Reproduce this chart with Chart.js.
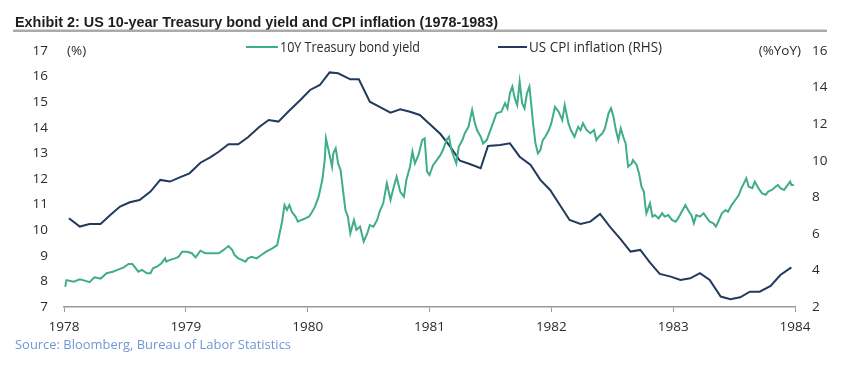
<!DOCTYPE html>
<html>
<head>
<meta charset="utf-8">
<script src="https://cdn.jsdelivr.net/npm/chart.js@4/dist/chart.umd.min.js"></script>
<style>
  html, body { margin: 0; padding: 0; background: #fff; }
  #chart { display: block; }
</style>
</head>
<body>
<canvas id="chart" width="848" height="376"></canvas>
<script>
// ====== DATA ======
const titleText = "Exhibit 2: US 10-year Treasury bond yield and CPI inflation (1978-1983)";
const sourceText = "Source: Bloomberg, Bureau of Labor Statistics";
const seriesNames = ["10Y Treasury bond yield", "US CPI inflation (RHS)"];
const yearTicks = [1978, 1979, 1980, 1981, 1982, 1983, 1984];

// 10Y yield (%), x in decimal years
const yieldDates = [
  1978.01, 1978.02, 1978.08, 1978.13, 1978.17, 1978.21, 1978.25, 1978.30, 1978.35, 1978.40,
  1978.45, 1978.49, 1978.53, 1978.56, 1978.58, 1978.61, 1978.64, 1978.68, 1978.71, 1978.73,
  1978.77, 1978.80, 1978.83, 1978.84, 1978.87, 1978.91, 1978.94, 1978.97, 1979.01, 1979.05,
  1979.08, 1979.12, 1979.16, 1979.21, 1979.27, 1979.31, 1979.35, 1979.38, 1979.40, 1979.43,
  1979.46, 1979.49, 1979.51, 1979.54, 1979.58, 1979.62, 1979.66, 1979.71, 1979.75, 1979.77,
  1979.79, 1979.81, 1979.83, 1979.85, 1979.87, 1979.90, 1979.92, 1979.95, 1979.98, 1980.01,
  1980.03, 1980.06, 1980.09, 1980.12, 1980.14, 1980.15, 1980.18, 1980.20, 1980.21, 1980.23,
  1980.25, 1980.27, 1980.29, 1980.31, 1980.33, 1980.35, 1980.38, 1980.40, 1980.43, 1980.46,
  1980.49, 1980.51, 1980.54, 1980.57, 1980.59, 1980.62, 1980.65, 1980.68, 1980.70, 1980.73,
  1980.76, 1980.79, 1980.81, 1980.84, 1980.86, 1980.88, 1980.91, 1980.94, 1980.96, 1980.98,
  1981.00, 1981.03, 1981.06, 1981.09, 1981.11, 1981.14, 1981.16, 1981.18, 1981.20, 1981.22,
  1981.24, 1981.27, 1981.29, 1981.32, 1981.35, 1981.37, 1981.39, 1981.42, 1981.44, 1981.47,
  1981.50, 1981.53, 1981.55, 1981.59, 1981.62, 1981.64, 1981.66, 1981.68, 1981.70, 1981.72,
  1981.74, 1981.76, 1981.78, 1981.80, 1981.82, 1981.83, 1981.85, 1981.87, 1981.89, 1981.91,
  1981.93, 1981.95, 1981.98, 1982.00, 1982.03, 1982.06, 1982.09, 1982.11, 1982.14, 1982.16,
  1982.19, 1982.22, 1982.24, 1982.26, 1982.29, 1982.32, 1982.35, 1982.37, 1982.39, 1982.42,
  1982.44, 1982.47, 1982.49, 1982.51, 1982.53, 1982.55, 1982.57, 1982.59, 1982.61, 1982.63,
  1982.66, 1982.67, 1982.70, 1982.72, 1982.74, 1982.76, 1982.77, 1982.78, 1982.81, 1982.83,
  1982.85, 1982.88, 1982.91, 1982.93, 1982.96, 1982.99, 1983.02, 1983.04, 1983.07, 1983.10,
  1983.13, 1983.15, 1983.17, 1983.19, 1983.22, 1983.25, 1983.28, 1983.30, 1983.33, 1983.35,
  1983.37, 1983.40, 1983.43, 1983.45, 1983.48, 1983.51, 1983.54, 1983.56, 1983.58, 1983.60,
  1983.62, 1983.65, 1983.67, 1983.70, 1983.73, 1983.76, 1983.78, 1983.81, 1983.84, 1983.86,
  1983.88, 1983.91, 1983.93, 1983.96, 1983.97, 1983.99
];
const yieldValues = [
  7.79, 8.05, 7.99, 8.08, 8.03, 7.97, 8.16, 8.11, 8.32, 8.38,
  8.47, 8.55, 8.68, 8.68, 8.57, 8.38, 8.45, 8.32, 8.32, 8.51,
  8.60, 8.71, 8.90, 8.77, 8.84, 8.90, 8.96, 9.16, 9.16, 9.10,
  8.94, 9.20, 9.10, 9.10, 9.10, 9.23, 9.38, 9.23, 9.03, 8.90,
  8.84, 8.77, 8.90, 8.96, 8.90, 9.03, 9.16, 9.29, 9.42, 9.88,
  10.33, 10.98, 10.79, 10.98, 10.72, 10.53, 10.33, 10.40, 10.46, 10.53,
  10.66, 10.92, 11.31, 11.96, 12.74, 13.59, 12.94, 12.48, 13.00, 13.20,
  12.61, 12.35, 11.57, 10.79, 10.53, 9.88, 10.40, 10.01, 10.14, 9.55,
  9.88, 10.20, 10.14, 10.40, 10.72, 11.05, 11.83, 11.18, 11.57, 12.09,
  11.50, 11.31, 11.96, 12.48, 13.07, 12.61, 12.94, 13.52, 13.59, 12.29,
  12.16, 12.55, 12.74, 12.94, 13.13, 13.52, 13.65, 13.13, 12.87, 12.61,
  13.26, 13.52, 13.79, 14.04, 14.70, 14.24, 13.91, 13.65, 13.39, 13.52,
  13.91, 14.30, 14.57, 14.63, 14.96, 14.76, 15.35, 15.61, 15.15, 14.89,
  15.80, 14.96, 14.76, 15.35, 15.61, 15.15, 14.18, 13.39, 13.00, 13.13,
  13.52, 13.65, 13.91, 14.18, 14.82, 14.63, 14.30, 14.89, 14.18, 13.91,
  13.65, 14.04, 13.91, 14.18, 13.91, 13.79, 13.91, 13.52, 13.65, 13.79,
  13.98, 14.57, 14.76, 14.43, 13.91, 13.52, 13.98, 13.65, 13.39, 12.48,
  12.61, 12.74, 12.55, 12.22, 11.70, 11.50, 11.00, 10.66, 11.05, 10.53,
  10.59, 10.46, 10.66, 10.53, 10.59, 10.40, 10.33, 10.46, 10.72, 10.98,
  10.72, 10.59, 10.27, 10.59, 10.53, 10.66, 10.46, 10.33, 10.27, 10.14,
  10.33, 10.66, 10.79, 10.72, 10.98, 11.18, 11.38, 11.64, 11.83, 12.03,
  11.70, 11.64, 11.90, 11.64, 11.44, 11.38, 11.51, 11.57, 11.70, 11.77,
  11.64, 11.57, 11.70, 11.90, 11.77, 11.77
];

// CPI inflation (%YoY, right axis)
const cpiDates = [
  1978.04, 1978.13, 1978.21, 1978.30, 1978.38, 1978.46, 1978.54, 1978.62, 1978.71, 1978.79,
  1978.87, 1978.95, 1979.03, 1979.12, 1979.20, 1979.27, 1979.35, 1979.43, 1979.51, 1979.60,
  1979.68, 1979.76, 1979.84, 1979.94, 1980.02, 1980.10, 1980.18, 1980.25, 1980.35, 1980.42,
  1980.51, 1980.59, 1980.68, 1980.76, 1980.84, 1980.92, 1981.01, 1981.09, 1981.17, 1981.25,
  1981.33, 1981.42, 1981.48, 1981.58, 1981.66, 1981.74, 1981.83, 1981.91, 1981.99, 1982.07,
  1982.15, 1982.24, 1982.32, 1982.40, 1982.48, 1982.57, 1982.65, 1982.73, 1982.81, 1982.89,
  1982.98, 1983.06, 1983.14, 1983.22, 1983.30, 1983.39, 1983.47, 1983.55, 1983.63, 1983.71,
  1983.80, 1983.88, 1983.97
];
const cpiValues = [
  6.85, 6.40, 6.54, 6.54, 7.03, 7.49, 7.73, 7.85, 8.31, 8.95,
  8.86, 9.09, 9.31, 9.89, 10.18, 10.49, 10.90, 10.90, 11.28, 11.83,
  12.23, 12.14, 12.68, 13.32, 13.87, 14.14, 14.83, 14.78, 14.45, 14.45,
  13.23, 12.95, 12.63, 12.81, 12.68, 12.50, 11.95, 11.46, 10.77, 10.00,
  9.82, 9.59, 10.81, 10.86, 10.95, 10.22, 9.77, 8.95, 8.40, 7.58,
  6.76, 6.54, 6.67, 7.09, 6.40, 5.70, 5.03, 5.12, 4.43, 3.81,
  3.66, 3.48, 3.57, 3.85, 3.48, 2.57, 2.42, 2.53, 2.84, 2.84,
  3.15, 3.75, 4.17
];

// ====== STYLE ======
const GREEN = "#40ad8a";
const NAVY = "#213a5d";
const TEXT = "#2b2b2b";
const AXIS = "#9a9a9a";
const TICK_FONT = { family: "'Open Sans', sans-serif", size: 13.5 };

const yieldPoints = yieldDates.map((d, i) => ({ x: d, y: yieldValues[i] }));
const cpiPoints = cpiDates.map((d, i) => ({ x: d, y: cpiValues[i] }));

// ====== TEXT / LEGEND PLUGIN ======
const decor = {
  id: "decor",
  beforeDraw(chart) {
    const ctx = chart.ctx;
    ctx.save();
    ctx.fillStyle = "#ffffff";
    ctx.fillRect(0, 0, chart.width, chart.height);
    ctx.restore();
  },
  afterDraw(chart) {
    const ctx = chart.ctx;
    ctx.save();

    // title + grey rule
    ctx.fillStyle = "#1e1e1e";
    ctx.textAlign = "left";
    ctx.textBaseline = "alphabetic";
    ctx.font = "bold 15px 'Liberation Sans', Arial, sans-serif";
    ctx.fillText(titleText, 15, 26.5, 483);
    ctx.fillStyle = "#aaaaaa";
    ctx.fillRect(13, 29.5, 814, 2.5);

    // legend
    ctx.textBaseline = "middle";
    ctx.font = "14.5px 'Open Sans', sans-serif";
    ctx.lineWidth = 2;
    ctx.strokeStyle = GREEN;
    ctx.beginPath(); ctx.moveTo(246, 47); ctx.lineTo(278, 47); ctx.stroke();
    ctx.fillStyle = TEXT;
    ctx.fillText(seriesNames[0], 280, 47.5, 140);
    ctx.strokeStyle = NAVY;
    ctx.beginPath(); ctx.moveTo(498, 47); ctx.lineTo(527, 47); ctx.stroke();
    ctx.fillText(seriesNames[1], 529, 47.5, 133);

    // axis units
    ctx.font = "13.5px 'Open Sans', sans-serif";
    ctx.fillText("(%)", 67, 51, 20);
    ctx.textAlign = "right";
    ctx.fillText("(%YoY)", 801, 51, 45);

    // source
    ctx.textAlign = "left";
    ctx.fillStyle = "#6f97d4";
    ctx.font = "13.5px 'Open Sans', sans-serif";
    ctx.fillText(sourceText, 15, 345, 276);

    ctx.restore();
  }
};

// ====== CHART ======
new Chart(document.getElementById("chart"), {
  type: "line",
  data: {
    datasets: [
      {
        label: seriesNames[0],
        data: yieldPoints,
        yAxisID: "y",
        borderColor: GREEN,
        borderWidth: 2,
        pointRadius: 0,
        tension: 0
      },
      {
        label: seriesNames[1],
        data: cpiPoints,
        yAxisID: "y1",
        borderColor: NAVY,
        borderWidth: 2,
        pointRadius: 0,
        tension: 0
      }
    ]
  },
  options: {
    responsive: false,
    animation: false,
    layout: { padding: { top: 51, left: 0, right: 0, bottom: 0 } },
    plugins: {
      legend: { display: false },
      title: { display: false },
      tooltip: { enabled: false }
    },
    scales: {
      x: {
        type: "linear",
        min: yearTicks[0],
        max: yearTicks[yearTicks.length - 1],
        afterBuildTicks: s => { s.ticks = yearTicks.map(v => ({ value: v })); },
        afterFit: s => { s.height = 69; },
        grid: { drawOnChartArea: false, drawTicks: true, tickLength: 5, color: AXIS, lineWidth: 1 },
        border: { display: true, color: AXIS, width: 1.5 },
        ticks: { color: TEXT, font: TICK_FONT, padding: 7, maxRotation: 0, callback: v => String(v) }
      },
      y: {
        position: "left",
        min: 7,
        max: 17,
        afterFit: s => { s.width = 64; },
        grid: { display: false, drawTicks: false },
        border: { display: false },
        ticks: { stepSize: 1, color: TEXT, font: TICK_FONT, padding: 16 }
      },
      y1: {
        position: "right",
        min: 2,
        max: 16,
        afterFit: s => { s.width = 53; },
        grid: { display: false, drawTicks: false },
        border: { display: false },
        ticks: { stepSize: 2, color: TEXT, font: TICK_FONT, padding: 17 }
      }
    }
  },
  plugins: [decor]
});
</script>
</body>
</html>
